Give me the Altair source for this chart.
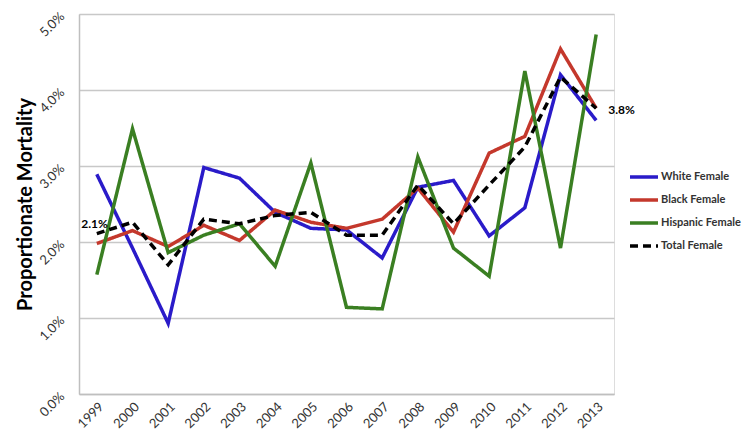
import altair as alt
import pandas as pd

years = [str(y) for y in range(1999, 2014)]
white = [2.89, 1.92, 0.93, 2.98, 2.84, 2.39, 2.18, 2.16, 1.79, 2.72, 2.81, 2.08, 2.45, 4.20, 3.60]
black = [1.98, 2.15, 1.94, 2.22, 2.02, 2.42, 2.26, 2.18, 2.30, 2.71, 2.13, 3.17, 3.39, 4.54, 3.76]
hispanic = [1.57, 3.49, 1.86, 2.09, 2.24, 1.68, 3.04, 1.14, 1.12, 3.12, 1.92, 1.55, 4.25, 1.92, 4.73]
total = [2.11, 2.26, 1.70, 2.30, 2.24, 2.35, 2.39, 2.09, 2.09, 2.75, 2.24, 2.75, 3.25, 4.17, 3.76]

series_names = ["White Female", "Black Female", "Hispanic Female", "Total Female"]
series_colors = ["#2a1bc9", "#c4382c", "#3a7f22", "#000000"]
series_dash = [[1, 0], [1, 0], [1, 0], [8, 5]]

rows = []
for name, vals in zip(series_names, [white, black, hispanic, total]):
    for i, (y, v) in enumerate(zip(years, vals)):
        rows.append({"year": y, "value": v, "series": name, "order": series_names.index(name)})
df = pd.DataFrame(rows)

label_df = pd.DataFrame([
    {"year": "1999", "value": total[0], "text": "2.1%", "pos": "left"},
    {"year": "2013", "value": total[-1], "text": "3.8%", "pos": "right"},
])

FONT = "Lato"

x_enc = alt.X("year:O", sort=years,
              axis=alt.Axis(title=None, labelAngle=-45, labelAlign="right", labelBaseline="top",
                            labelPadding=6, ticks=False, domain=True, domainColor="#bfbfbf",
                            domainWidth=1.5, labelFontSize=13, labelColor="#333333", labelFont=FONT,
                            grid=False),
              scale=alt.Scale(padding=0.5))
y_enc = alt.Y("value:Q", scale=alt.Scale(domain=[0, 5], nice=False),
              axis=alt.Axis(title="Proportionate Mortality", values=[0, 1, 2, 3, 4, 5],
                            labelExpr="format(datum.value, '.1f') + '%'",
                            labelAngle=-45, labelAlign="right", labelBaseline="middle",
                            labelPadding=17, ticks=False, domain=True, domainColor="#bfbfbf",
                            domainWidth=1.5, gridColor="#c8c8c8", gridWidth=1.5,
                            labelFontSize=13, labelColor="#333333", labelFont=FONT,
                            titleFont=FONT, titleFontSize=20, titleFontWeight="bold",
                            titleColor="#000000", titlePadding=2))

leg = alt.Legend(title=None, orient="none", legendX=549, legendY=147,
                 symbolType="stroke", symbolSize=784, symbolStrokeWidth=3.5,
                 labelFont=FONT, labelFontSize=11, labelFontWeight="bold",
                 labelColor="#333333", rowPadding=-6, labelOffset=1)

lines = alt.Chart(df).mark_line(strokeWidth=3.5).encode(
    x=x_enc,
    y=y_enc,
    color=alt.Color("series:N", sort=series_names,
                    scale=alt.Scale(domain=series_names, range=series_colors),
                    legend=leg),
    strokeDash=alt.StrokeDash("series:N", sort=series_names,
                              scale=alt.Scale(domain=series_names, range=series_dash),
                              legend=leg),
    detail="series:N",
    order=alt.Order("order:Q"),
)

lab_left = alt.Chart(label_df[label_df.pos == "left"]).mark_text(
    align="right", baseline="middle", dx=11, dy=-10, font=FONT, fontSize=12, fontWeight="bold",
    color="#000000").encode(x=alt.X("year:O", sort=years), y="value:Q", text="text:N")
lab_right = alt.Chart(label_df[label_df.pos == "right"]).mark_text(
    align="left", baseline="middle", dx=12, dy=2, font=FONT, fontSize=12, fontWeight="bold",
    color="#000000").encode(x=alt.X("year:O", sort=years), y="value:Q", text="text:N")

chart = alt.layer(lines, lab_left, lab_right).properties(
    width=535, height=380,
    autosize=alt.AutoSizeParams(type="none"),
    padding={"left": 71, "top": 6, "right": 128, "bottom": 42},
).configure_view(stroke=None).configure(background="white")

chart.save("out.html", embed_options={"renderer": "svg", "actions": False})
